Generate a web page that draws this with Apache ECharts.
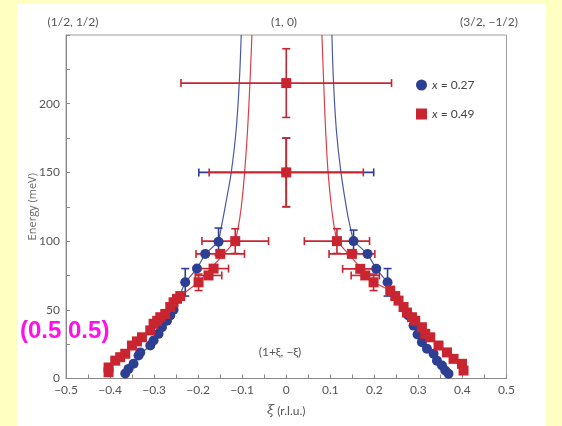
<!DOCTYPE html>
<html>
<head>
<meta charset="utf-8">
<script src="https://cdn.jsdelivr.net/npm/echarts@6/dist/echarts.min.js"></script>
<style>
  html, body { margin: 0; padding: 0; background: #ffffc2; }
  #chart { width: 562px; height: 426px; }
</style>
</head>
<body>
<div id="chart"></div>
<script>
// Spin-excitation dispersion along (1+ξ, −ξ): energy (meV) vs ξ (r.l.u.)

// x = 0.27 measured points [ξ, E]
const blueLeft = [[-0.3655,3.6],[-0.358,7],[-0.3467,10.7],[-0.3353,16.7],[-0.3314,19],[-0.3087,24],
  [-0.3012,27.6],[-0.2899,32.5],[-0.2822,37.3],[-0.2708,42],[-0.2633,45.8],[-0.2558,50],
  [-0.2293,70],[-0.2027,80],[-0.1839,90.7],[-0.1537,99.5]];
const blueRight = [[0.1528,100],[0.1846,90.7],[0.2043,79.8],[0.23,70],[0.2776,45.8],[0.289,38.5],
  [0.298,32],[0.308,26.4],[0.3194,21.6],[0.3344,18],[0.3421,13],[0.3535,9.5],[0.3609,5.8],[0.3684,3.4]];
const blueCentre = [[0,150]];

// x = 0.49 measured points [ξ, E]
const redLeft = [[-0.4034,4.6],[-0.4034,8],[-0.3882,13],[-0.377,15.5],[-0.3655,18],[-0.3503,24],
  [-0.339,27],[-0.3276,30],[-0.3087,35],[-0.3012,39.8],[-0.293,42],[-0.286,44.6],[-0.2747,47],
  [-0.2633,52],[-0.2558,55.5],[-0.248,58],[-0.2406,60],[-0.1991,70],[-0.1764,75],[-0.165,80],
  [-0.1498,90.7],[-0.1158,100]];
const redRight = [[0.1151,100],[0.1491,90.7],[0.168,79.8],[0.1793,75],[0.1982,70],[0.2361,64],
  [0.2474,60],[0.2549,56.7],[0.2663,52],[0.274,48],[0.2854,44.6],[0.2928,42],[0.308,37.3],
  [0.3156,32.5],[0.3269,30],[0.3457,24],[0.3648,19],[0.3798,14.3],[0.3989,10.7],[0.4025,5.8]];
const redCentre = [[0,215],[0,150]];

// error bars [ξ, E, ±ξ, ±E]
const blueErrors = [[0,150,0.1985,25],[-0.1537,99.5,0,10],[-0.2293,70,0,10],[0.1528,100,0,8],[0.23,70,0,10]];
const redErrors = [[0,215,0.239,25],[0,150,0.175,25],[-0.1158,100,0.0756,9],[-0.1498,90.7,0.055,0],
  [-0.165,80,0.034,0],[-0.1764,75,0.03,0],[-0.1991,70,0,6],[0.1151,100,0.074,9],[0.1491,90.7,0.052,0],
  [0.168,79.8,0.04,0],[0.1793,75,0.032,0],[0.1982,70,0,6]];

// model dispersion, upper (diverging) branches [ξ, E]
const blueUpperLeft = [[-0.1022,250],[-0.1067,215],[-0.1140,180],[-0.1249,150],[-0.1346,132],[-0.146,112.5],[-0.1537,99.5]];
const blueUpperRight = [[0.1037,250],[0.1074,215],[0.1140,180],[0.1242,150],[0.1378,122],[0.1453,110],[0.1528,100]];
const redUpperLeft = [[-0.0779,250],[-0.0825,215],[-0.0880,180],[-0.0945,150],[-0.1020,125],[-0.1090,110],[-0.1158,100]];
const redUpperRight = [[0.081,250],[0.0850,215],[0.0895,180],[0.0950,150],[0.1025,125],[0.1090,110],[0.1151,100]];

// lower branches joining the measured points [ξ, E]
const blueLowerLeft = [[-0.1537,99.5],[-0.1839,90.7],[-0.2027,80],[-0.2293,70],[-0.2558,50],[-0.2822,37.3],
  [-0.3087,24],[-0.3353,16.7],[-0.3655,3.6]];
const blueLowerRight = [[0.1528,100],[0.1846,90.7],[0.2043,79.8],[0.23,70],[0.2776,45.8],[0.308,26.4],
  [0.3421,13],[0.3684,3.4]];
const redLowerLeft = [[-0.1158,100],[-0.1991,70],[-0.2406,60],[-0.2633,52],[-0.286,44.6],[-0.3087,35],
  [-0.3503,24],[-0.3882,13],[-0.4034,4.6]];
const redLowerRight = [[0.1151,100],[0.1982,70],[0.2361,64],[0.2549,56.7],[0.274,48],[0.308,37.3],
  [0.3457,24],[0.3798,14.3],[0.4025,5.8]];

const seriesNames = ['x = 0.27', 'x = 0.49'];
const cornerLabels = ['(1/2, 1/2)', '(1, 0)', '(3/2, \u22121/2)'];

const BLUE = '#2d3f92';
const RED = '#c92530';
const BLUE_LINE = '#4a5aa2';
const RED_LINE = '#d8404a';

function errorRender(color) {
  return function (params, api) {
    const x = api.value(0), y = api.value(1), dx = api.value(2), dy = api.value(3);
    const cap = 4;
    const style = { stroke: color, lineWidth: 1.6 };
    const children = [];
    if (dx > 0) {
      const l = api.coord([x - dx, y]), r = api.coord([x + dx, y]);
      children.push({ type: 'line', shape: { x1: l[0], y1: l[1], x2: r[0], y2: r[1] }, style });
      children.push({ type: 'line', shape: { x1: l[0], y1: l[1] - cap, x2: l[0], y2: l[1] + cap }, style });
      children.push({ type: 'line', shape: { x1: r[0], y1: r[1] - cap, x2: r[0], y2: r[1] + cap }, style });
    }
    if (dy > 0) {
      const t = api.coord([x, y + dy]), b = api.coord([x, y - dy]);
      children.push({ type: 'line', shape: { x1: t[0], y1: t[1], x2: b[0], y2: b[1] }, style });
      children.push({ type: 'line', shape: { x1: t[0] - cap, y1: t[1], x2: t[0] + cap, y2: t[1] }, style });
      children.push({ type: 'line', shape: { x1: b[0] - cap, y1: b[1], x2: b[0] + cap, y2: b[1] }, style });
    }
    return { type: 'group', children };
  };
}

function curve(data, color, smooth) {
  return {
    type: 'line', data, showSymbol: false, smooth: smooth, silent: true,
    lineStyle: { color, width: 1.2 }, z: 2
  };
}

const tickFont = "'Liberation Sans Narrow', Lato, 'Open Sans', sans-serif";

const chart = echarts.init(document.getElementById('chart'));
chart.setOption({
  backgroundColor: '#ffffc2',
  animation: false,
  grid: { left: 66, right: 55.5, top: 35, bottom: 47.5, show: true, borderColor: '#a0a0a0', borderWidth: 1 },
  xAxis: {
    type: 'value', min: -0.5, max: 0.5, interval: 0.1,
    name: '{i|\u03be} (r.l.u.)', nameLocation: 'middle', nameGap: 26, nameMoveOverlap: false,
    nameTextStyle: { color: '#555', fontSize: 12, fontFamily: tickFont,
      rich: { i: { fontStyle: 'italic', fontSize: 13, color: '#555', fontFamily: 'DejaVu Serif' } } },
    axisLine: { onZero: false, lineStyle: { color: '#888' } },
    axisTick: { inside: true, length: 4, lineStyle: { color: '#888' } },
    minorTick: { show: true, splitNumber: 2, length: 4, lineStyle: { color: '#888' } },
    splitLine: { show: false },
    axisLabel: {
      color: '#555', fontSize: 12, fontFamily: tickFont, margin: 6,
      formatter: v => {
        const r = Math.round(v * 10) / 10;
        if (r === 0) return '0';
        return (r < 0 ? '\u2212' : '') + Math.abs(r).toFixed(1);
      }
    }
  },
  yAxis: {
    type: 'value', min: 0, max: 250, interval: 50,
    name: 'Energy (meV)', nameLocation: 'middle', nameGap: 28, nameMoveOverlap: false,
    nameTextStyle: { color: '#666', fontSize: 11, fontFamily: "'Open Sans', sans-serif" },
    axisLine: { show: true, onZero: false, lineStyle: { color: '#888' } },
    axisTick: { show: true, inside: true, length: 4, lineStyle: { color: '#888' } },
    minorTick: { show: true, splitNumber: 2, length: 4, lineStyle: { color: '#888' } },
    splitLine: { show: false },
    axisLabel: {
      color: '#555', fontSize: 12, fontFamily: tickFont, margin: 6,
      formatter: v => (v >= 250 ? '' : String(v))
    }
  },
  legend: {
    orient: 'vertical', left: 411, top: 74, itemGap: 17, itemWidth: 11, itemHeight: 11,
    data: [{ name: seriesNames[0], icon: 'circle' }, { name: seriesNames[1], icon: 'rect' }],
    formatter: name => name.replace(/^x/, '{i|x}'),
    textStyle: { color: '#444', fontSize: 12, fontFamily: tickFont,
      rich: { i: { fontStyle: 'italic', fontSize: 12, color: '#444', fontFamily: tickFont } } }
  },
  graphic: [
    { type: 'rect', z: -10, silent: true, shape: { x: 17, y: 3, width: 529, height: 423 }, style: { fill: '#ffffff' } },
    { type: 'text', x: 73, y: 22, style: { text: cornerLabels[0], fill: '#555', font: "12px " + tickFont, align: 'center', verticalAlign: 'middle' } },
    { type: 'text', x: 284, y: 22, style: { text: cornerLabels[1], fill: '#555', font: "12px " + tickFont, align: 'center', verticalAlign: 'middle' } },
    { type: 'text', x: 489, y: 22, style: { text: cornerLabels[2], fill: '#555', font: "12px " + tickFont, align: 'center', verticalAlign: 'middle' } },
    { type: 'text', x: 280, y: 352, style: { text: '(1+\u03be, \u2212\u03be)', fill: '#555', font: "12px " + tickFont, align: 'center', verticalAlign: 'middle' } },
    { type: 'text', x: 20, y: 331, z: 100, style: { text: '(0.5 0.5)', fill: '#ff10e8', font: "bold 24px 'Liberation Sans', Arial, sans-serif", align: 'left', verticalAlign: 'middle' } }
  ],
  series: [
    curve(blueUpperLeft, BLUE_LINE, 0.4),
    curve(blueUpperRight, BLUE_LINE, 0.4),
    curve(redUpperLeft, RED_LINE, 0.4),
    curve(redUpperRight, RED_LINE, 0.4),
    curve(blueLowerLeft, BLUE_LINE, false),
    curve(blueLowerRight, BLUE_LINE, false),
    curve(redLowerLeft, RED_LINE, false),
    curve(redLowerRight, RED_LINE, false),
    { type: 'custom', renderItem: errorRender(BLUE), data: blueErrors, z: 3, silent: true },
    { type: 'custom', renderItem: errorRender(RED), data: redErrors, z: 4, silent: true },
    { name: seriesNames[0], type: 'scatter', symbol: 'circle', symbolSize: 10, z: 5,
      itemStyle: { color: BLUE, opacity: 1 }, data: blueLeft.concat(blueRight, blueCentre) },
    { name: seriesNames[1], type: 'scatter', symbol: 'rect', symbolSize: 10, z: 6,
      itemStyle: { color: RED, opacity: 1 }, data: redLeft.concat(redRight, redCentre) }
  ]
});
</script>
</body>
</html>
